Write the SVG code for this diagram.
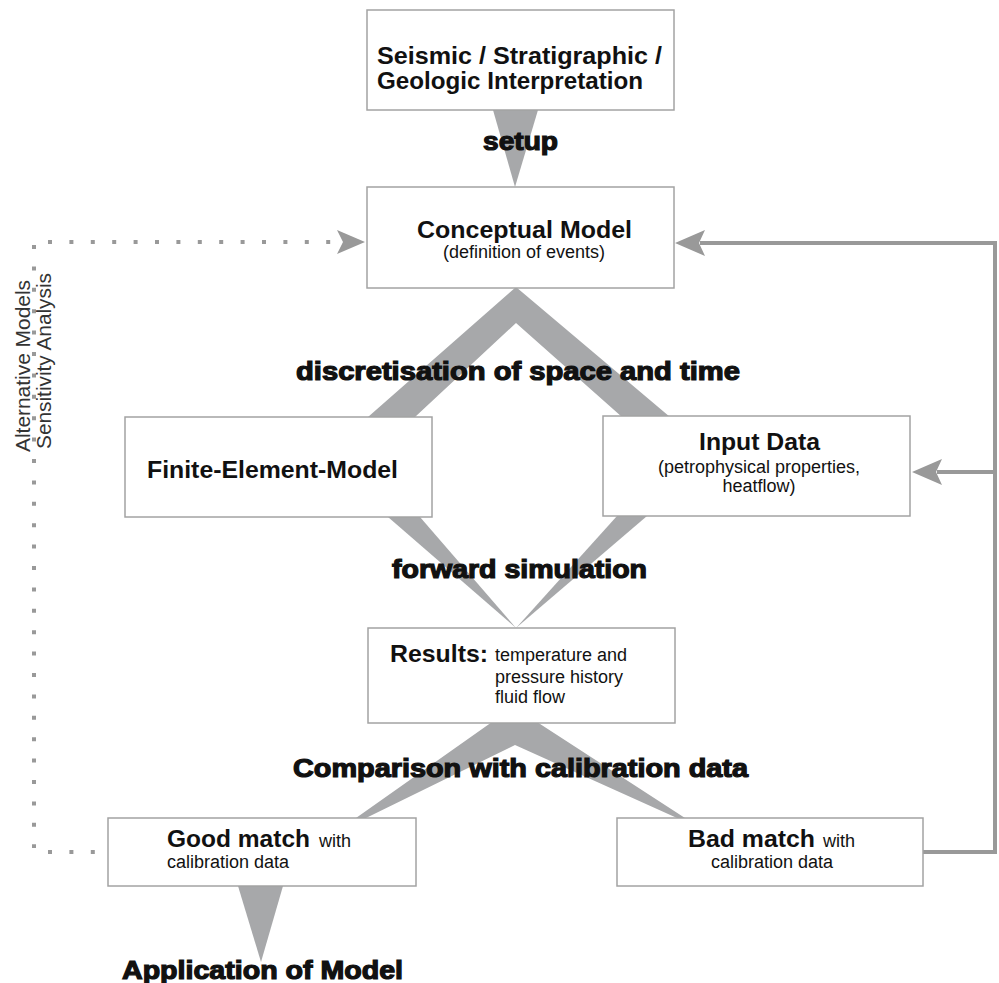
<svg xmlns="http://www.w3.org/2000/svg" width="999" height="983" viewBox="0 0 999 983">
<style>
.box{fill:#fff;stroke:#a3a3a3;stroke-width:1.5}
.wedge{fill:#a7a8aa}
.t{font-family:"Liberation Sans",Arial,sans-serif;fill:#111}
.b{font-weight:bold;font-size:24px}
.r{font-size:18px}
.heavy{font-family:"Liberation Sans",Arial,sans-serif;font-weight:bold;fill:#111;stroke:#111;stroke-width:1.2;font-size:25px}
.line{fill:none;stroke:#999;stroke-width:4}
.dots{fill:none;stroke:#999;stroke-width:4;stroke-dasharray:4 17.4}
.head{fill:#999}
.side{font-family:"Liberation Sans",Arial,sans-serif;font-size:21px;fill:#333}
</style>
<rect width="999" height="983" fill="#fff"/>

<g id="connectors">
  <polygon id="w-setup" class="wedge" points="493,110 538,110 515,187"/>
  <polygon id="w-discretisation" class="wedge" points="516,287 670,417 622,417 516,323 415,417 368,417"/>
  <polygon id="w-forward-left" class="wedge" points="388,517 420,517 516,628"/>
  <polygon id="w-forward-right" class="wedge" points="617,516 647,516 516,628"/>
  <polygon id="w-comparison" class="wedge" points="492,722 537,722 685,818 677,818 515,745 366,818 356,818"/>
  <polygon id="w-application" class="wedge" points="238,886 283,886 261,962"/>

  <polyline class="line" points="923,852 995,852 995,243 700,243"/>
  <path class="head" d="M675,243 L705,230 L699,243 L705,256 Z"/>
  <line class="line" x1="995" y1="472" x2="937" y2="472"/>
  <path class="head" d="M912,472 L942,459 L936,472 L942,485 Z"/>

  <line class="dots" x1="34" y1="245" x2="34" y2="848"/>
  <line class="dots" x1="48" y1="242" x2="332" y2="242"/>
  <line class="dots" x1="48" y1="852" x2="97" y2="852"/>
  <path class="head" d="M365,242 L337,230 L343,242 L337,254 Z"/>
</g>

<g id="label-setup"><text class="heavy" x="483" y="150" textLength="75" lengthAdjust="spacingAndGlyphs">setup</text></g>
<g id="label-discretisation"><text class="heavy" x="296" y="380" textLength="444" lengthAdjust="spacingAndGlyphs">discretisation of space and time</text></g>
<g id="label-forward"><text class="heavy" x="392" y="578" textLength="255" lengthAdjust="spacingAndGlyphs">forward simulation</text></g>
<g id="label-comparison"><text class="heavy" x="293" y="777" textLength="455" lengthAdjust="spacingAndGlyphs">Comparison with calibration data</text></g>
<g id="label-application"><text class="heavy" x="122" y="979" textLength="281" lengthAdjust="spacingAndGlyphs">Application of Model</text></g>

<g id="label-side">
  <text class="side" transform="translate(30,452) rotate(-90)" textLength="172" lengthAdjust="spacingAndGlyphs">Alternative Models</text>
  <text class="side" transform="translate(51,449) rotate(-90)" textLength="176" lengthAdjust="spacingAndGlyphs">Sensitivity Analysis</text>
</g>

<g id="node-interpretation">
  <rect class="box" x="367" y="10" width="307" height="100"/>
  <text class="t b" x="377" y="64" textLength="285" lengthAdjust="spacingAndGlyphs">Seismic / Stratigraphic /</text>
  <text class="t b" x="377" y="89" textLength="266" lengthAdjust="spacingAndGlyphs">Geologic Interpretation</text>
</g>

<g id="node-conceptual">
  <rect class="box" x="367" y="187" width="307" height="101"/>
  <text class="t b" x="417" y="238" textLength="215" lengthAdjust="spacingAndGlyphs">Conceptual Model</text>
  <text class="t r" x="524" y="258" text-anchor="middle">(definition of events)</text>
</g>

<g id="node-fem">
  <rect class="box" x="125" y="417" width="307" height="100"/>
  <text class="t b" x="147" y="478" textLength="251" lengthAdjust="spacingAndGlyphs">Finite-Element-Model</text>
</g>

<g id="node-input">
  <rect class="box" x="603" y="416" width="307" height="100"/>
  <text class="t b" x="699" y="450" textLength="121" lengthAdjust="spacingAndGlyphs">Input Data</text>
  <text class="t r" x="759" y="473" text-anchor="middle">(petrophysical properties,</text>
  <text class="t r" x="759" y="492" text-anchor="middle">heatflow)</text>
</g>

<g id="node-results">
  <rect class="box" x="368" y="628" width="307" height="95"/>
  <text class="t b" x="390" y="662" textLength="98" lengthAdjust="spacingAndGlyphs">Results:</text>
  <text class="t r" x="495" y="661">temperature and</text>
  <text class="t r" x="495" y="683">pressure history</text>
  <text class="t r" x="495" y="703">fluid flow</text>
</g>

<g id="node-good">
  <rect class="box" x="108" y="818" width="308" height="68"/>
  <text class="t b" x="167" y="847" textLength="143" lengthAdjust="spacingAndGlyphs">Good match</text>
  <text class="t r" x="319" y="847">with</text>
  <text class="t r" x="167" y="868">calibration data</text>
</g>

<g id="node-bad">
  <rect class="box" x="617" y="818" width="306" height="68"/>
  <text class="t b" x="688" y="847" textLength="127" lengthAdjust="spacingAndGlyphs">Bad match</text>
  <text class="t r" x="823" y="847">with</text>
  <text class="t r" x="711" y="868">calibration data</text>
</g>
</svg>
